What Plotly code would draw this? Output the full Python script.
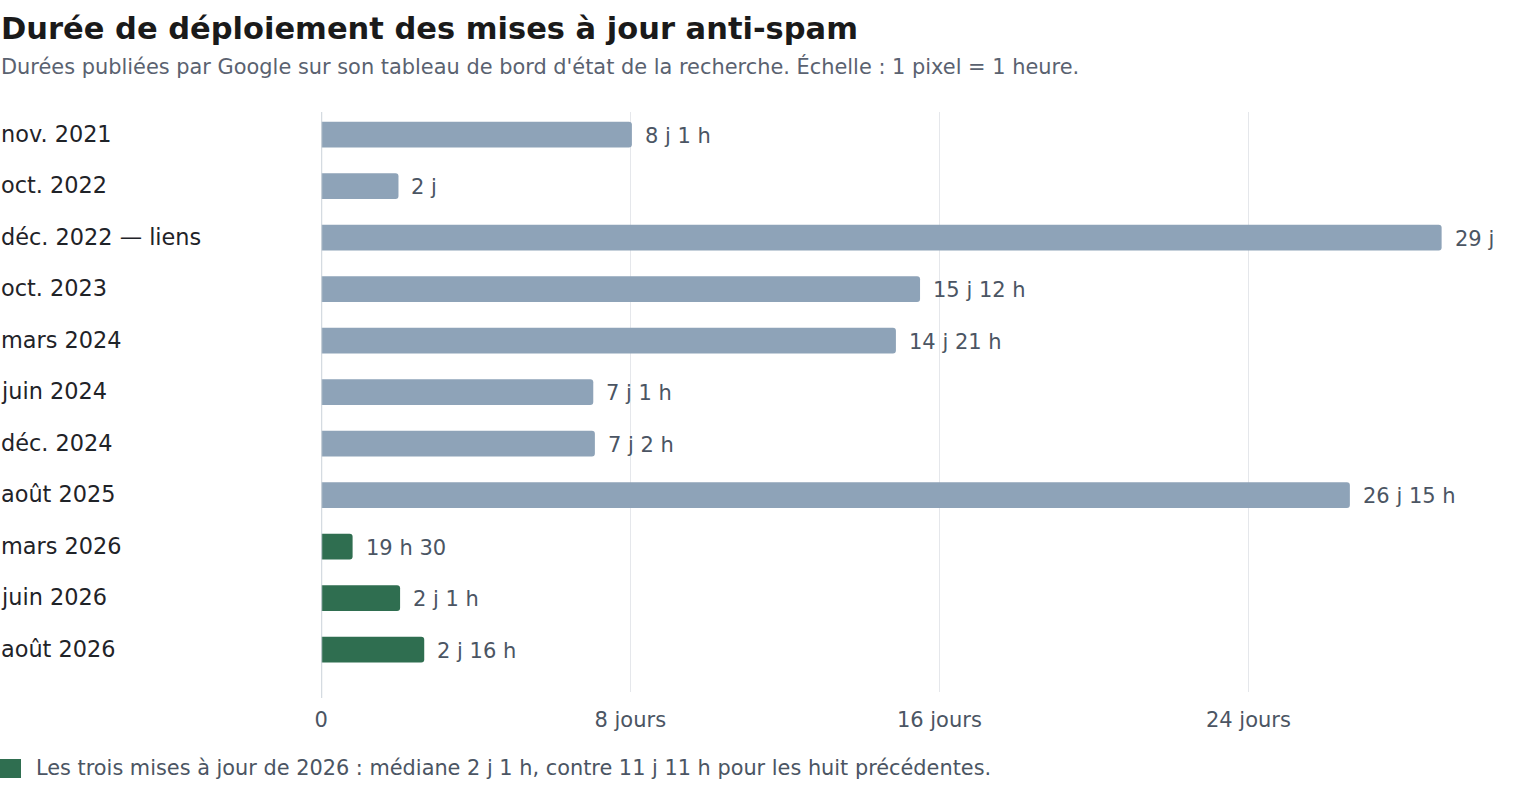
import plotly.graph_objects as go

# Données (durées en heures)
periodes = ["nov. 2021", "oct. 2022", "déc. 2022 — liens", "oct. 2023", "mars 2024",
            "juin 2024", "déc. 2024", "août 2025", "mars 2026", "juin 2026", "août 2026"]
heures = [193, 48, 696, 372, 357, 169, 170, 639, 19.5, 49, 64]
etiquettes = ["8 j 1 h", "2 j", "29 j", "15 j 12 h", "14 j 21 h", "7 j 1 h", "7 j 2 h",
              "26 j 15 h", "19 h 30", "2 j 1 h", "2 j 16 h"]
annee_2026 = [False] * 8 + [True] * 3
tick_vals = [0, 192, 384, 576]
tick_text = ["0", "8 jours", "16 jours", "24 jours"]

GRIS = "#8ea3b8"
VERT = "#2f6e50"
TEXTE = "#4b5563"
FONT = "DejaVu Sans"

W, H = 1520, 805

def px_x(px):
    # pixel horizontal visé à l'écran -> coordonnée papier (compense le décalage de la page)
    return (px - 8) * 1520 / 1512 / W

def py(px):
    # pixel vertical -> coordonnée papier
    return 1 - px / H

fig = go.Figure(go.Bar(
    x=heures,
    y=periodes,
    orientation="h",
    width=0.5,
    marker=dict(color=[VERT if a else GRIS for a in annee_2026], line=dict(width=0)),
    hoverinfo="skip",
))

# Étiquettes de valeurs au bout des barres
for p, h, t in zip(periodes, heures, etiquettes):
    fig.add_annotation(x=h, y=p, text=t, showarrow=False, xanchor="left", xshift=11,
                       yshift=-1, font=dict(size=21, color=TEXTE, family=FONT))

# Libellés de catégories alignés à gauche
for p in periodes:
    fig.add_annotation(x=px_x(0), xref="paper", y=p, yref="y", text=p, showarrow=False,
                       xanchor="left", yshift=1,
                       font=dict(size=22.4, color="#1f2328", family=FONT))

# Titre et sous-titre
fig.add_annotation(x=px_x(0), xref="paper", y=py(28), yref="paper", yanchor="middle",
                   xanchor="left", showarrow=False,
                   text="<b>Durée de déploiement des mises à jour anti-spam</b>",
                   font=dict(size=30.5, color="#1a1a1a", family=FONT))
fig.add_annotation(x=px_x(0), xref="paper", y=py(67), yref="paper", yanchor="middle",
                   xanchor="left", showarrow=False,
                   text="Durées publiées par Google sur son tableau de bord d'état de la recherche. Échelle : 1 pixel = 1 heure.",
                   font=dict(size=20.9, color="#5a6270", family=FONT))

# Légende
fig.add_shape(type="rect", xref="paper", yref="paper", x0=px_x(0), x1=px_x(22),
              y0=py(778), y1=py(759), fillcolor=VERT, line=dict(width=0))
fig.add_annotation(x=px_x(35), xref="paper", y=py(768), yref="paper",
                   xanchor="left", yanchor="middle", showarrow=False,
                   text="Les trois mises à jour de 2026 : médiane 2 j 1 h, contre 11 j 11 h pour les huit précédentes.",
                   font=dict(size=20.85, color=TEXTE, family=FONT))

# Ligne de base
fig.add_shape(type="line", xref="x", yref="paper", x0=0, x1=0, y0=py(698), y1=py(112),
              line=dict(color="#cbd2da", width=2))

fig.update_xaxes(range=[0, 733], tickvals=tick_vals, ticktext=tick_text,
                 showgrid=True, gridcolor="#e5e7eb", gridwidth=1, zeroline=False,
                 showline=False, ticks="", ticklabelstandoff=13,
                 tickfont=dict(size=21, color=TEXTE, family=FONT),
                 domain=[px_x(322), px_x(1501.2)], fixedrange=True)
fig.update_yaxes(type="category", range=[10.825, -0.437], showticklabels=False,
                 showgrid=False, zeroline=False, ticks="",
                 domain=[py(692), py(112)], fixedrange=True)

fig.update_layout(
    width=W, height=H,
    margin=dict(l=0, r=0, t=0, b=0),
    plot_bgcolor="white", paper_bgcolor="white",
    barcornerradius=3,
    showlegend=False,
    font=dict(family=FONT),
)

fig.write_html("out.html", post_script="document.body.style.margin='0';",
               config={"displayModeBar": False})
